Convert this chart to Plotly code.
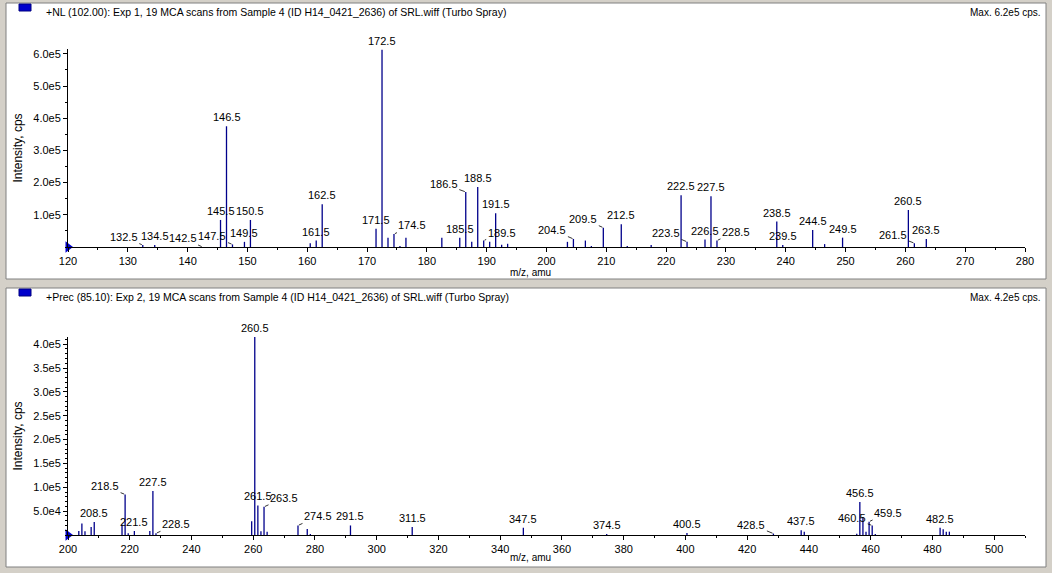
import plotly.graph_objects as go

# ---- top panel: +NL (102.00) ----
nl_mz = [132.5, 134.5, 145.5, 146.5, 147.5, 149.5, 150.5, 160.5, 161.5, 162.5,
         171.5, 172.5, 173.5, 174.5, 175.5, 176.5, 182.5, 185.5, 186.5, 187.5,
         188.5, 189.5, 190.5, 191.5, 192.5, 193.5, 203.5, 204.5, 206.5, 207.5,
         209.5, 212.5, 213.5, 217.5, 222.5, 223.5, 226.5, 227.5, 228.5, 238.5,
         239.5, 244.5, 246.5, 249.5, 260.5, 261.5, 263.5]
nl_int = [6000, 6000, 84000, 375000, 8000, 16000, 84000, 12000, 20000, 133000,
          57000, 613000, 29000, 40000, 3000, 29000, 29000, 29000, 171000, 16000,
          186000, 20000, 16000, 105000, 7000, 10000, 16000, 25000, 20000, 3000,
          60000, 71000, 3000, 6000, 161000, 16000, 23000, 158000, 20000, 79000,
          6000, 53000, 9000, 29000, 115000, 12000, 25000]
nl_labels = [132.5, 134.5, 142.5, 145.5, 146.5, 147.5, 149.5, 150.5, 161.5, 162.5,
             171.5, 172.5, 174.5, 185.5, 186.5, 188.5, 189.5, 191.5, 204.5, 209.5,
             212.5, 222.5, 223.5, 226.5, 227.5, 228.5, 238.5, 239.5, 244.5, 249.5,
             260.5, 261.5, 263.5]

# ---- bottom panel: +Prec (85.10) ----
prec_mz = [203.5, 204.5, 205.5, 207.5, 208.5, 217.5, 218.5, 219.5, 221.5, 226.5,
           227.5, 228.5, 259.5, 260.5, 261.5, 262.5, 263.5, 264.5, 274.5, 277.5,
           278.5, 291.5, 311.5, 347.5, 374.5, 400.5, 428.5, 437.5, 438.5, 455.5,
           456.5, 457.5, 458.5, 459.5, 460.5, 461.5, 482.5, 483.5, 484.5, 485.5]
prec_int = [8400, 24000, 8000, 17000, 27000, 22000, 85000, 3500, 8400, 8400,
            92000, 3500, 29000, 415000, 62000, 8000, 59000, 7000, 20000, 12600,
            2000, 20000, 17000, 15000, 2000, 4000, 3000, 10000, 7000, 2500,
            69000, 37000, 7000, 28000, 20000, 2000, 15000, 12000, 7000, 7000]
prec_labels = [208.5, 218.5, 221.5, 227.5, 228.5, 260.5, 261.5, 263.5, 274.5, 291.5,
               311.5, 347.5, 374.5, 400.5, 428.5, 437.5, 456.5, 459.5, 460.5, 482.5]

top_yticks = [1e5, 2e5, 3e5, 4e5, 5e5, 6e5]
top_ytext = ["1.0e5", "2.0e5", "3.0e5", "4.0e5", "5.0e5", "6.0e5"]
bot_yticks = [5e4, 1e5, 1.5e5, 2e5, 2.5e5, 3e5, 3.5e5, 4e5]
bot_ytext = ["5.0e4", "1.0e5", "1.5e5", "2.0e5", "2.5e5", "3.0e5", "3.5e5", "4.0e5"]

# labels pushed sideways with a leader line: (dx, dy) in pixels
nl_leader = {132.5: (-19, -8), 142.5: (-20, -9), 147.5: (-20, -8), 174.5: (18, -9),
             186.5: (-22, -8), 189.5: (18, -8), 204.5: (-21, -9), 209.5: (-20, -9),
             223.5: (-21, -9), 228.5: (19, -9), 261.5: (-21, -8)}
prec_leader = {218.5: (-20, -8), 228.5: (20, -9), 263.5: (20, -9), 274.5: (20, -9),
               428.5: (-22, -9), 460.5: (-20, -7), 459.5: (19, -9)}

W, H = 1052, 573
BLUE = "#00008b"
FONT = "Liberation Sans, Arial, sans-serif"


def sticks(mz, inten):
    xs, ys = [], []
    for m, v in zip(mz, inten):
        xs += [m, m, None]
        ys += [0, v, None]
    return xs, ys


def py(px):  # pixel row -> paper y
    return 1 - px / H


def pxx(px):
    return px / W


fig = go.Figure()
for mz, inten, ax, x0 in [(nl_mz, nl_int, "", 120), (prec_mz, prec_int, "2", 200)]:
    xs, ys = sticks(mz, inten)
    fig.add_trace(go.Scatter(x=xs, y=ys, mode="lines", line=dict(color=BLUE, width=1.3),
                             xaxis="x" + ax, yaxis="y" + ax, hoverinfo="skip"))
    fig.add_trace(go.Scatter(x=[x0], y=[0], mode="markers", xaxis="x" + ax, yaxis="y" + ax,
                             marker=dict(symbol="triangle-right", size=10, color="#0000cc"),
                             cliponaxis=False, hoverinfo="skip"))

anns = []
for labels, mz, inten, ax, leader in [(nl_labels, nl_mz, nl_int, "x", nl_leader),
                                      (prec_labels, prec_mz, prec_int, "x2", prec_leader)]:
    lookup = dict(zip(mz, inten))
    yref = "y" if ax == "x" else "y2"
    for lab in labels:
        font = dict(size=11, color="black", family=FONT)
        if lab in leader:
            dx, dy = leader[lab]
            anns.append(dict(x=lab, y=lookup.get(lab, 0), xref=ax, yref=yref, text=f"{lab}",
                             showarrow=True, arrowhead=0, arrowwidth=0.8, arrowcolor="black",
                             ax=dx, ay=dy, standoff=1, font=font))
        else:
            anns.append(dict(x=lab, y=lookup.get(lab, 0), xref=ax, yref=yref, text=f"{lab}",
                             showarrow=False, yanchor="bottom", yshift=1, font=font))

# panel headers
for top, title, mx in [(0, "+NL (102.00): Exp 1, 19 MCA scans from Sample 4 (ID H14_0421_2636) of SRL.wiff (Turbo Spray)", "Max. 6.2e5 cps."),
                       (285, "+Prec (85.10): Exp 2, 19 MCA scans from Sample 4 (ID H14_0421_2636) of SRL.wiff (Turbo Spray)", "Max. 4.2e5 cps.")]:
    anns.append(dict(x=pxx(44), y=py(top + 12), xref="paper", yref="paper", text=title, showarrow=False,
                     xanchor="left", yanchor="middle", font=dict(size=10.5, color="black", family=FONT)))
    anns.append(dict(x=pxx(1043), y=py(top + 12), xref="paper", yref="paper", text=mx, showarrow=False,
                     xanchor="right", yanchor="middle", font=dict(size=10, color="black", family=FONT)))
    anns.append(dict(x=pxx(530), y=py(top + 272), xref="paper", yref="paper", text="m/z, amu", showarrow=False,
                     xanchor="center", yanchor="middle", font=dict(size=10, color="black", family=FONT)))

shapes = [
    dict(type="rect", xref="paper", yref="paper", x0=pxx(6), x1=pxx(1046), y0=py(279), y1=py(3),
         fillcolor="white", line=dict(color="#808080", width=1), layer="below"),
    dict(type="rect", xref="paper", yref="paper", x0=pxx(6), x1=pxx(1046), y0=py(567), y1=py(288),
         fillcolor="white", line=dict(color="#808080", width=1), layer="below"),
    dict(type="rect", xref="paper", yref="paper", x0=pxx(19), x1=pxx(31), y0=py(11), y1=py(4),
         fillcolor="#0000cc", line=dict(color="#000080", width=1)),
    dict(type="rect", xref="paper", yref="paper", x0=pxx(19), x1=pxx(31), y0=py(296), y1=py(289),
         fillcolor="#0000cc", line=dict(color="#000080", width=1)),
]

xcommon = dict(showline=True, linecolor="black", ticks="outside", ticklen=4, tickcolor="black",
               showgrid=False, zeroline=False, automargin=False,
               tickfont=dict(size=11, color="black", family=FONT))
ycommon = dict(showline=True, linecolor="black", ticks="outside", ticklen=4, tickcolor="black",
               showgrid=False, zeroline=False, automargin=False,
               tickfont=dict(size=11, color="black", family=FONT),
               title=dict(text="Intensity, cps", font=dict(size=12, color="black", family=FONT), standoff=8))

fig.update_layout(
    width=W, height=H, showlegend=False,
    paper_bgcolor="#d4d0c8", plot_bgcolor="white",
    margin=dict(l=0, r=0, t=0, b=0),
    xaxis=dict(domain=[pxx(68), pxx(1025)], range=[120, 280], anchor="y", dtick=10,
               minor=dict(dtick=5, ticks="outside", ticklen=2, tickcolor="black"), **xcommon),
    yaxis=dict(domain=[py(247), py(49)], range=[0, 6.15e5], anchor="x",
               tickvals=top_yticks, ticktext=top_ytext,
               minor=dict(dtick=5e4, ticks="outside", ticklen=2, tickcolor="black"), **ycommon),
    xaxis2=dict(domain=[pxx(68), pxx(1025)], range=[200, 510], anchor="y2", dtick=20,
                minor=dict(dtick=10, ticks="outside", ticklen=2, tickcolor="black"), **xcommon),
    yaxis2=dict(domain=[py(535), py(337)], range=[0, 4.15e5], anchor="x2",
                tickvals=bot_yticks, ticktext=bot_ytext,
                minor=dict(dtick=1e4, ticks="outside", ticklen=2, tickcolor="black"), **ycommon),
    annotations=anns, shapes=shapes,
)

# page body has a default 8px margin; remove it so the figure fills the window
fig.write_html("out.html", config={"displayModeBar": False},
               post_script="document.body.style.margin='0';")
